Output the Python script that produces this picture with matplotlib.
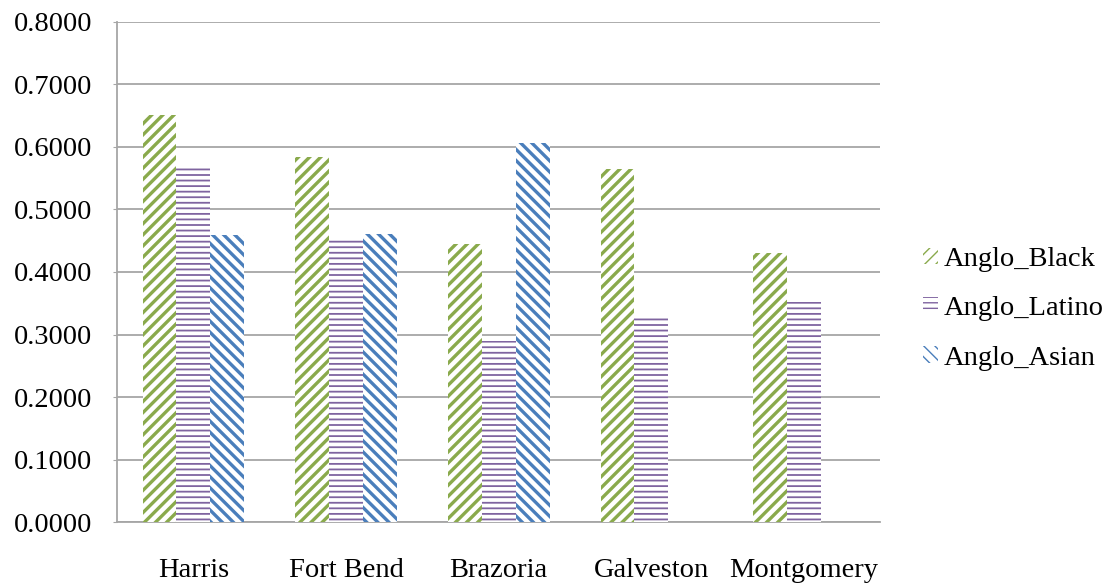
import matplotlib
matplotlib.use("Agg")
import matplotlib.pyplot as plt
import numpy as np

counties = ["Harris", "Fort Bend", "Brazoria", "Galveston", "Montgomery"]
anglo_black = [0.651, 0.584, 0.445, 0.565, 0.431]
anglo_latino = [0.571, 0.451, 0.290, 0.330, 0.352]
anglo_asian = [0.459, 0.461, 0.606, 0.0, 0.0]
y_ticks = [0.0, 0.1, 0.2, 0.3, 0.4, 0.5, 0.6, 0.7, 0.8]

plt.rcParams['font.family'] = ['Liberation Serif', 'DejaVu Serif']

fig = plt.figure(figsize=(11.2, 5.83), dpi=100)
ax = fig.add_axes([0.1045, 0.1046, 0.6815, 0.8577])

x = np.arange(len(counties))
w = 0.222

# (values, label, colour, hatch pattern, hatch line width)
series = [
    (anglo_black, "Anglo_Black", "#8AAA4C", "///", 2.4),
    (anglo_latino, "Anglo_Latino", "#7F64A0", "---", 1.3),
    (anglo_asian, "Anglo_Asian", "#4A7EBB", "\\\\\\", 2.4),
]

handles = []
for i, (vals, name, col, hatch, hlw) in enumerate(series):
    with plt.rc_context({'hatch.linewidth': hlw}):
        bars = ax.bar(x + (i - 1) * w, vals, width=w, facecolor="white",
                      edgecolor=col, hatch=hatch, linewidth=0, label=name,
                      zorder=3)
    for b in bars:
        if hasattr(b, "set_hatch_linewidth"):
            b.set_hatch_linewidth(hlw)
    handles.append(bars)

ax.set_xlim(-0.5, len(counties) - 0.5)
ax.set_ylim(0, 0.8)
ax.set_yticks(y_ticks)
ax.set_yticklabels([f"{v:.4f}" for v in y_ticks])
ax.set_xticks(x)
ax.set_xticklabels(counties)

ax.grid(axis="y", color="#A6A6A6", linewidth=1.3, zorder=0)
for side in ["top", "right"]:
    ax.spines[side].set_visible(False)
for side in ["left", "bottom"]:
    ax.spines[side].set_color("#A6A6A6")
    ax.spines[side].set_linewidth(1.3)

ax.tick_params(axis="y", length=3, color="#A6A6A6", pad=15, labelsize=20.5)
ax.tick_params(axis="x", length=0, pad=26, labelsize=20.5)

leg = fig.legend(handles=handles, loc="center left",
                 bbox_to_anchor=(0.8015, 0.470), frameon=False, fontsize=20.5,
                 handlelength=0.5, handleheight=0.5, handletextpad=0.2,
                 labelspacing=0.85)

fig.savefig("out.png", dpi=100)
